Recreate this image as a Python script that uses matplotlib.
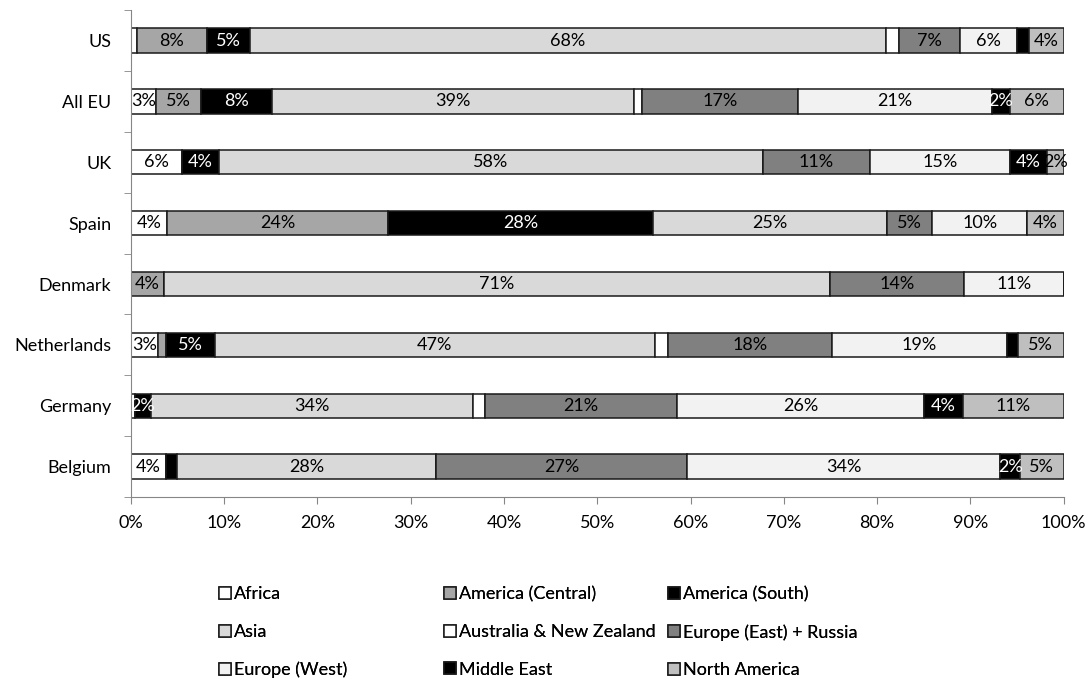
import matplotlib.pyplot as plt
import numpy as np

plt.rcParams['font.family'] = ['Lato', 'DejaVu Sans']

countries = ['US', 'All EU', 'UK', 'Spain', 'Denmark', 'Netherlands', 'Germany', 'Belgium']
regions = ['Africa', 'America (Central)', 'America (South)', 'Asia',
           'Australia & New Zealand', 'Europe (East) + Russia', 'Europe (West)',
           'Middle East', 'North America']

africa = [0.6, 2.7, 5.5, 3.9, 0, 2.9, 0.4, 3.8]
america_central = [7.5, 4.8, 0, 23.6, 3.5, 0.9, 0, 0]
america_south = [4.6, 7.6, 3.9, 28.4, 0, 5.2, 1.8, 1.1]
asia = [68.0, 38.8, 58.4, 25.1, 71.4, 47.1, 34.4, 27.8]
australia_nz = [1.4, 0.8, 0, 0, 0, 1.4, 1.3, 0]
europe_east = [6.5, 16.7, 11.4, 4.8, 14.3, 17.6, 20.6, 26.9]
europe_west = [6.1, 20.8, 15.0, 10.2, 10.7, 18.7, 26.4, 33.6]
middle_east = [1.3, 1.9, 4.0, 0, 0, 1.2, 4.2, 2.1]
north_america = [3.7, 5.8, 1.8, 3.9, 0, 4.9, 10.8, 4.7]

series = [africa, america_central, america_south, asia, australia_nz,
          europe_east, europe_west, middle_east, north_america]
colors = ['#ffffff', '#a6a6a6', '#000000', '#d9d9d9', '#ffffff',
          '#808080', '#f2f2f2', '#000000', '#bfbfbf']
text_colors = ['black', 'black', 'white', 'black', 'black',
               'black', 'black', 'white', 'black']

data = np.array(series, dtype=float)
shares = data / data.sum(axis=0) * 100

fig = plt.figure(figsize=(10.91, 6.79), dpi=100)
ax = fig.add_axes([0.12, 0.268, 0.855, 0.717])

fs = 13
y = np.arange(len(countries))
left = np.zeros(len(countries))
handles = []
for i, reg in enumerate(regions):
    bars = ax.barh(y, shares[i], left=left, height=0.4, color=colors[i],
                   edgecolor='#1a1a1a', linewidth=1.1, label=reg)
    handles.append(bars)
    for j in range(len(countries)):
        v = shares[i, j]
        if round(v) >= 2:
            ax.text(left[j] + v / 2, y[j], f'{round(v)}%', ha='center', va='center',
                    fontsize=fs, color=text_colors[i])
    left += shares[i]

ax.set_xlim(0, 100)
ax.set_ylim(7.5, -0.5)
ax.set_xticks(np.arange(0, 101, 10))
ax.set_xticklabels([f'{t}%' for t in range(0, 101, 10)])
ax.set_yticks(y)
ax.set_yticklabels(countries)
ax.set_yticks(np.arange(-0.5, 8, 1), minor=True)
ax.tick_params(axis='y', which='major', length=0, labelsize=fs, pad=14)
ax.tick_params(axis='y', which='minor', length=5, color='#868686')
ax.tick_params(axis='x', length=5, color='#868686', labelsize=fs, pad=8)
for s in ['top', 'right']:
    ax.spines[s].set_visible(False)
for s in ['left', 'bottom']:
    ax.spines[s].set_color('#868686')

# legend in three columns, placed like the original
col_x = [0.2007, 0.407, 0.6123]
for c in range(3):
    idx = [c, c + 3, c + 6]
    leg = fig.legend([handles[k] for k in idx], [regions[k] for k in idx],
                     loc='upper left', bbox_to_anchor=(col_x[c], 0.1366),
                     frameon=False, fontsize=fs, handlelength=0.65, handleheight=0.65,
                     handletextpad=0.2, labelspacing=1.2, borderaxespad=0, borderpad=0)
    fig.add_artist(leg)

fig.savefig('out.png', dpi=100)
